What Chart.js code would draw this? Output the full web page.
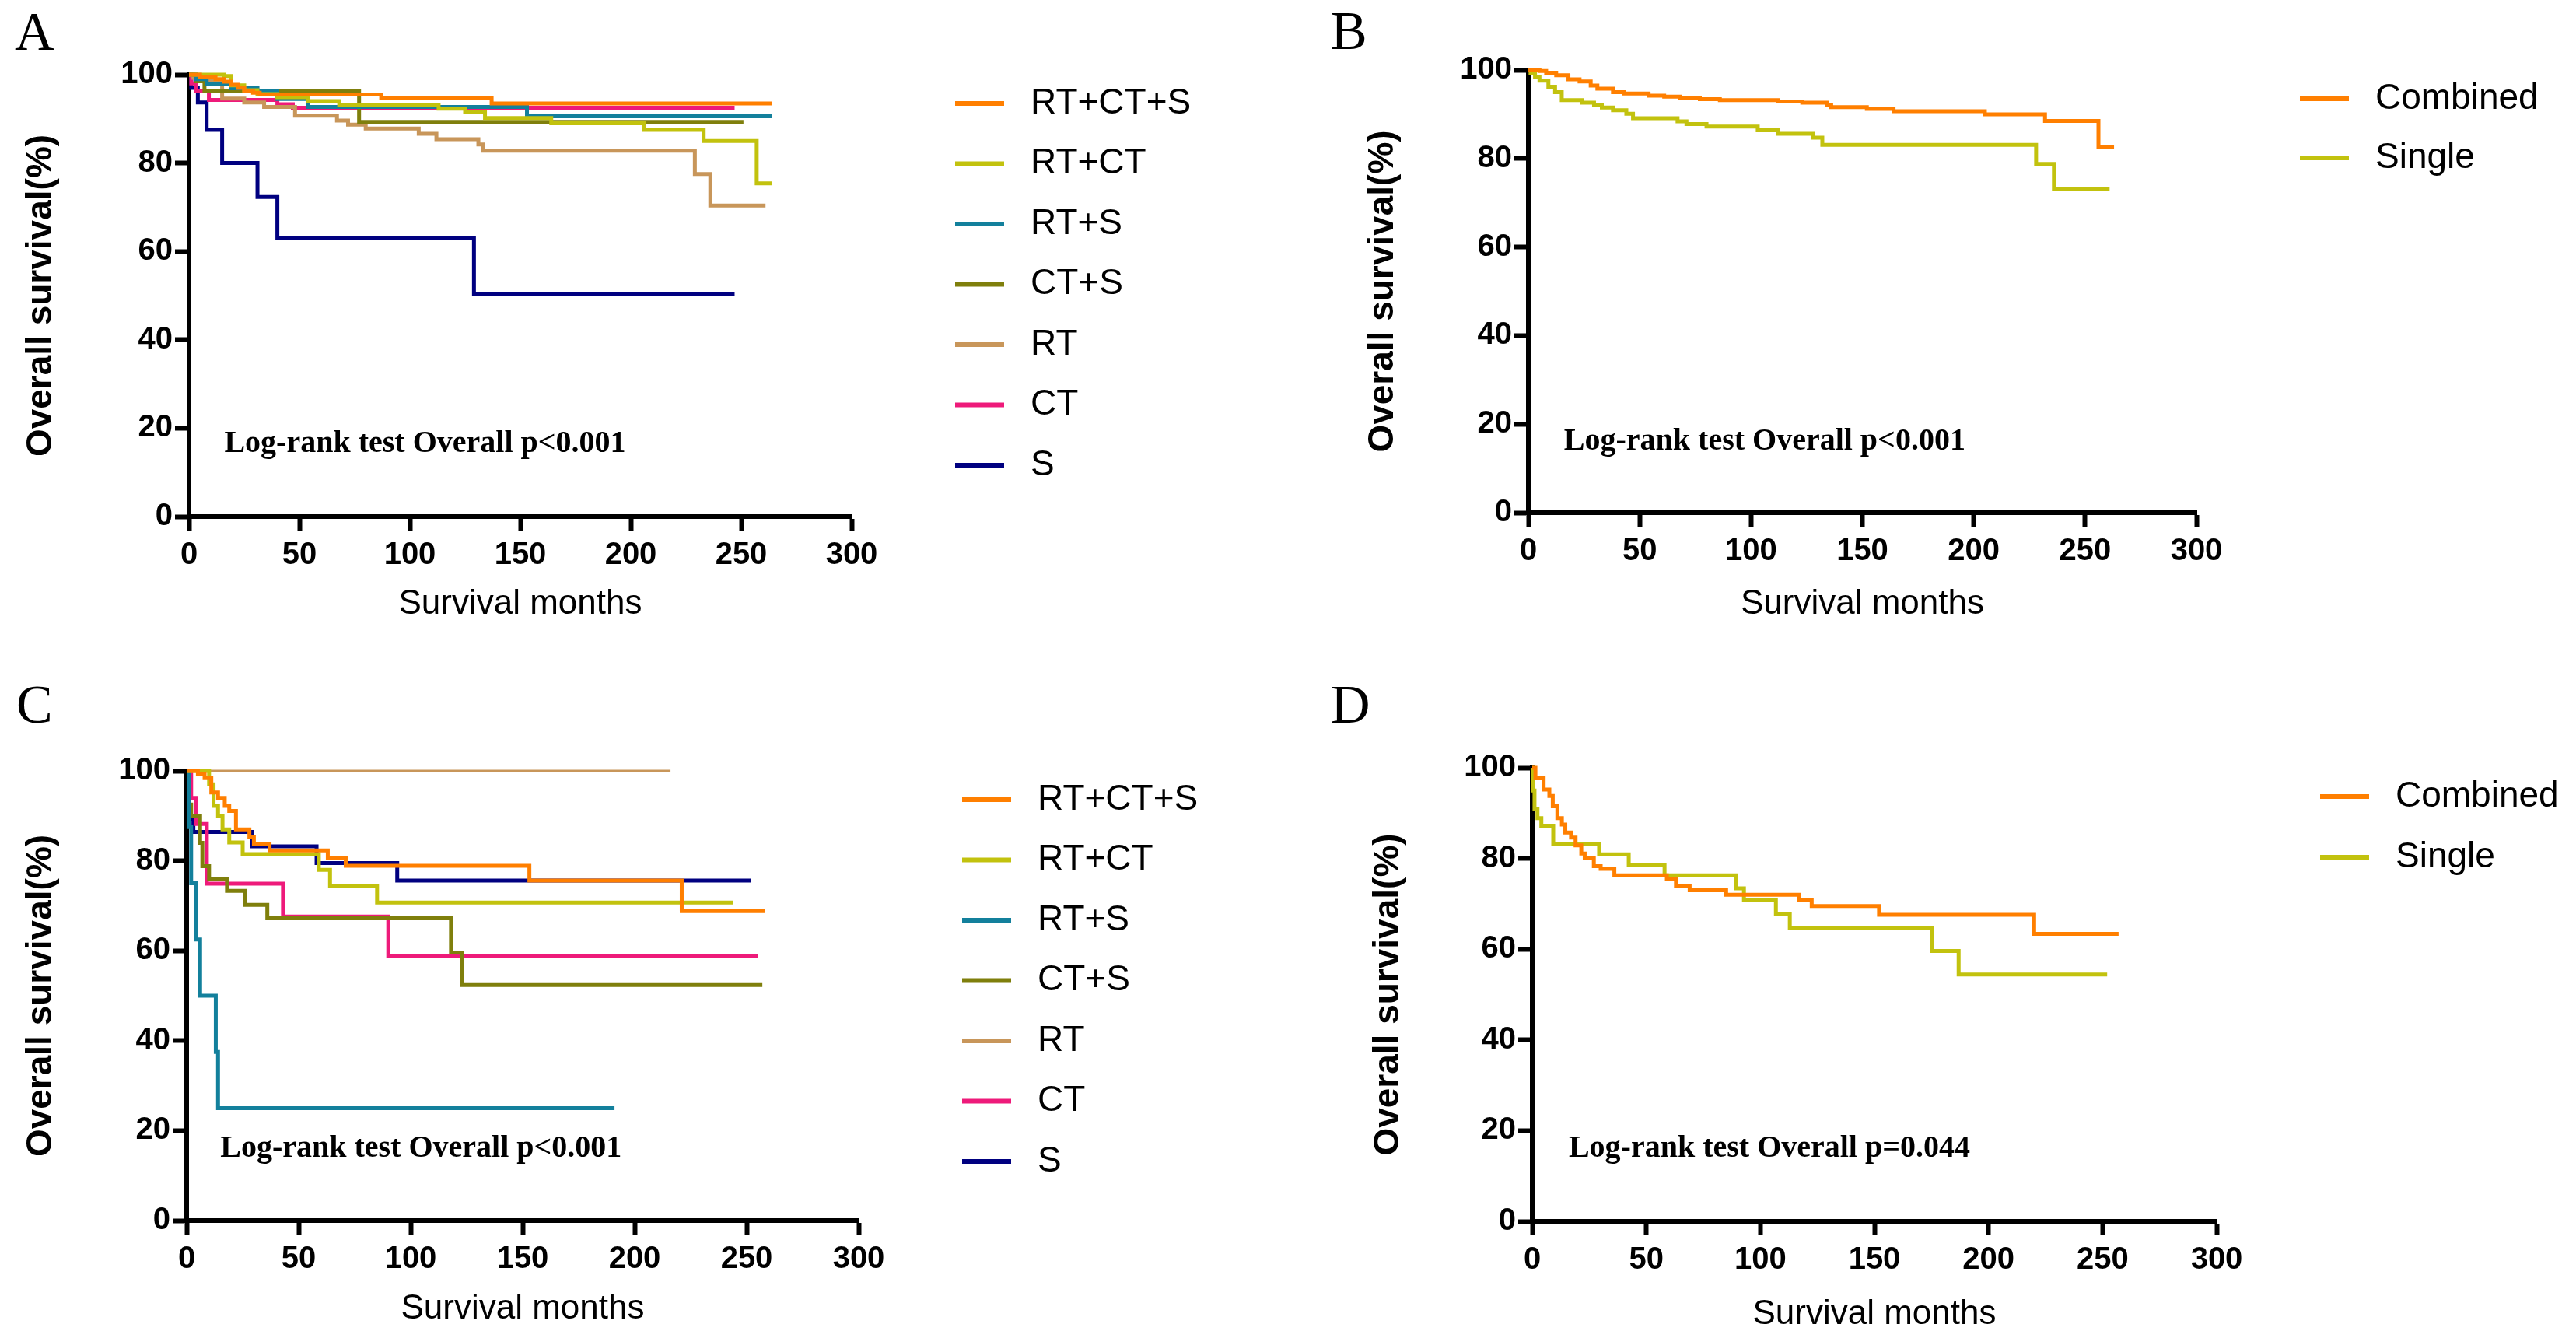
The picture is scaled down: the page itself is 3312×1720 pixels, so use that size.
<!doctype html>
<html>
<head>
<title>Overall survival by treatment</title>
<script src="https://cdn.jsdelivr.net/npm/chart.js@4.4.0/dist/chart.umd.min.js"></script>
<style>
  body { margin: 0; background: #fff; }
  .panel { position: absolute; width: 1656px; height: 860px; }
</style>
</head>
<body>
<div class="panel" style="left:0;top:0"><canvas id="chartA" width="1656" height="860"></canvas></div>
<div class="panel" style="left:1656px;top:0"><canvas id="chartB" width="1656" height="860"></canvas></div>
<div class="panel" style="left:0;top:860px"><canvas id="chartC" width="1656" height="860"></canvas></div>
<div class="panel" style="left:1656px;top:860px"><canvas id="chartD" width="1656" height="860"></canvas></div>
<script>
// axis ticks
var xTicks = [0, 50, 100, 150, 200, 250, 300];
var yTicks = [0, 20, 40, 60, 80, 100];

// group names
var groupsSix = ['RT+CT+S', 'RT+CT', 'RT+S', 'CT+S', 'RT', 'CT', 'S'];
var groupsTwo = ['Combined', 'Single'];

// Kaplan-Meier steps: [month, survival %]
// panel A
var A_RTCTS = [[0,100],[5,99.4],[12,99],[16,98.4],[19,97.7],[22,97],[25,96.4],[29,95.9],[32,95.5],[87,94.7],[137,93.5],[264,93.5]];
var A_RTCT = [[0,100],[16,99.7],[19,97.6],[25,96.5],[31,95.6],[40,94.9],[54,94],[68,93.1],[113,92.3],[125,91.6],[134,90.2],[164,89],[206,87.5],[233,85],[257,75.4],[264,75.4]];
var A_RTS = [[0,100],[3,99],[8,97.8],[19,96.9],[31,96.3],[40,94.5],[54,92.7],[153,90.6],[264,90.6]];
var A_CTS = [[0,100],[3,98.5],[7,96.3],[77,89.3],[251,89.3]];
var A_RT = [[0,100],[2,99.3],[5,98.7],[15,94.6],[25,93.7],[34,92.7],[48,90.7],[67,89.6],[72,88.7],[80,87.8],[104,86.6],[112,85.4],[131,84.2],[133,82.8],[229,77.5],[236,70.4],[261,70.4]];
var A_CT = [[0,100],[1,98],[3,96.3],[9,94.3],[40,93.3],[47,92.5],[247,92.5]];
var A_S = [[0,100],[1,97],[4,93.7],[8,87.5],[15,80],[31,72.3],[40,63],[129,50.4],[247,50.4]];

// panel B
var B_Combined = [[0,100],[5,99.8],[8,99.4],[12.5,98.8],[18,97.9],[23,97.4],[28,96.5],[31,95.8],[38,95],[43,94.7],[54,94.2],[61,94],[68,93.7],[77,93.4],[86,93.2],[112,92.9],[123,92.6],[134,92.2],[136,91.6],[152,91.2],[164,90.7],[205,90],[232,88.5],[256,82.6],[263,82.6]];
var B_Single = [[0,100],[1,99.4],[3,98.5],[5,97.6],[9,96.2],[12,95],[15,93.2],[24,92.6],[29.5,92.1],[33,91.5],[38,90.9],[44,90.1],[47,89.1],[67,88.4],[71,87.8],[80,87.2],[103,86.4],[112,85.6],[128,84.7],[132,83.1],[228,78.8],[236,73.1],[261,73.1]];

// panel C
var C_RTCTS = [[0,100],[5,99.2],[8,98.4],[11,95.2],[14,94],[17,92.2],[19,91.1],[22,87],[28,85.2],[30,83.8],[37,82.3],[63,80.7],[71,78.9],[153,75.6],[221,68.8],[258,68.8]];
var C_RTCT = [[0,100],[10,97],[12,92.2],[14,89.9],[16,87],[19,84.1],[25,81.5],[59,78],[64,74.5],[85,70.7],[244,70.7]];
var C_RTS = [[0,100],[1,87.5],[2,75],[4,62.5],[6,50],[13,37.5],[14,25],[191,25]];
var C_CTS = [[0,100],[1,92.5],[2,89.9],[6,84],[7,78.8],[10,75.9],[18,73.3],[26,70.2],[36,67.2],[118,59.6],[123,52.4],[257,52.4]];
var C_RT = [[0,100],[216,100]];
var C_CT = [[0,100],[2,94],[4,88.2],[9,74.9],[43,67.6],[90,58.8],[255,58.8]];
var C_S = [[0,100],[1,89.3],[3,86.4],[29,83.2],[58,79.5],[94,75.6],[252,75.6]];

// panel D
var D_Combined = [[0,100],[1.4,97.7],[5,95.2],[7.5,93.8],[9,91.5],[11,88.9],[13,87.5],[14.5,85.7],[17,84.6],[19,82.9],[21.5,81.1],[23,80],[27,78.3],[30,77.7],[36,76.3],[59,75.4],[63,74],[69,73],[85,72],[117,70.8],[122.5,69.5],[152,67.6],[220,63.4],[257,63.4]];
var D_Single = [[0,100],[0.5,95],[1,90.9],[2.3,88.9],[4,87.2],[9.2,83.2],[29.3,80.9],[42.3,78.6],[58,76.3],[89.4,73.4],[92.8,70.8],[106.8,67.8],[112.9,64.6],[175.2,59.6],[186.9,54.4],[252,54.4]];

var colorsSix = ['#FF7F00', '#C2C20E', '#13809C', '#7F7F0C', '#C8965A', '#EE1A7A', '#000080'];
var colorsTwo = ['#FF7F00', '#C2C20E'];

function toPoints(steps) {
  return steps.map(function (p) { return { x: p[0], y: p[1] }; });
}

// legend, panel letter and log-rank note
var panelExtras = {
  id: 'panelExtras',
  afterDraw: function (chart) {
    var o = chart.options.plugins.panelExtras;
    var ctx = chart.ctx;
    var area = chart.chartArea;
    ctx.save();
    ctx.fillStyle = '#000';
    ctx.font = '70px "Liberation Serif"';
    ctx.textBaseline = 'alphabetic';
    ctx.textAlign = 'left';
    ctx.fillText(o.letter, o.letterX, o.letterY);

    ctx.font = 'bold 40px "Liberation Serif"';
    ctx.textBaseline = 'middle';
    ctx.fillText(o.note, chart.scales.x.getPixelForValue(o.noteAt[0]), chart.scales.y.getPixelForValue(o.noteAt[1]));

    ctx.font = '46px "Liberation Sans"';
    chart.data.datasets.forEach(function (ds, i) {
      var lx = area.right + 133;
      var ly = area.top + 37 + i * o.rowGap;
      ctx.strokeStyle = ds.borderColor;
      ctx.lineWidth = 6;
      ctx.beginPath();
      ctx.moveTo(lx, ly);
      ctx.lineTo(lx + 63, ly);
      ctx.stroke();
      ctx.fillStyle = '#000';
      ctx.fillText(ds.label, lx + 97, ly);
    });
    ctx.restore();
  }
};

function makePanel(id, labels, colors, series, geo, extras) {
  var datasets = series.map(function (s, i) {
    return {
      label: labels[i],
      data: toPoints(s),
      borderColor: colors[i],
      borderWidth: (geo.thin && geo.thin.indexOf(i) >= 0) ? 3 : 5,
      pointRadius: 0,
      stepped: 'before',
      fill: false,
      clip: 12
    };
  });
  var W = 1656, H = 860;
  return new Chart(document.getElementById(id), {
    type: 'line',
    data: { datasets: datasets },
    plugins: [panelExtras],
    options: {
      responsive: false,
      animation: false,
      layout: { padding: { left: 0, top: geo.top, right: W - geo.right, bottom: 0 } },
      plugins: {
        legend: { display: false },
        tooltip: { enabled: false },
        panelExtras: extras
      },
      scales: {
        x: {
          type: 'linear',
          min: xTicks[0],
          max: xTicks[xTicks.length - 1],
          afterFit: function (s) { s.height = H - geo.bottom; },
          afterBuildTicks: function (s) { s.ticks = xTicks.map(function (v) { return { value: v }; }); },
          ticks: { color: '#000', padding: 8, font: { family: 'Liberation Sans', weight: 'bold', size: 40 } },
          grid: { drawOnChartArea: false, drawTicks: true, tickLength: 18, tickWidth: 6, tickColor: '#000' },
          border: { display: true, color: '#000', width: 6 },
          title: {
            display: true, text: 'Survival months', color: '#000',
            font: { family: 'Liberation Sans', size: 44 },
            padding: { top: 0, bottom: H - 26.4 - geo.xTitleY }
          }
        },
        y: {
          type: 'linear',
          min: yTicks[0],
          max: yTicks[yTicks.length - 1],
          afterFit: function (s) { s.width = geo.left; },
          afterBuildTicks: function (s) { s.ticks = yTicks.map(function (v) { return { value: v }; }); },
          ticks: { color: '#000', padding: 3, font: { family: 'Liberation Sans', weight: 'bold', size: 40 } },
          grid: { drawOnChartArea: false, drawTicks: true, tickLength: 18, tickWidth: 6, tickColor: '#000' },
          border: { display: true, color: '#000', width: 6 },
          title: {
            display: true, text: 'Overall survival(%)', color: '#000',
            font: { family: 'Liberation Sans', weight: 'bold', size: 46 },
            padding: { top: geo.yTitleX - 27.6, bottom: 0 }
          }
        }
      }
    }
  });
}

makePanel('chartA', groupsSix, colorsSix, [A_RTCTS, A_RTCT, A_RTS, A_CTS, A_RT, A_CT, A_S],
  { left: 243, top: 96, right: 1095, bottom: 664, xTitleY: 777, yTitleX: 53 },
  { letter: 'A', letterX: 19, letterY: 64, note: 'Log-rank test Overall p<0.001', noteAt: [16, 16.5], rowGap: 77.5 });

makePanel('chartB', groupsTwo, colorsTwo, [B_Combined, B_Single],
  { left: 309, top: 90, right: 1168, bottom: 659, xTitleY: 777, yTitleX: 122 },
  { letter: 'B', letterX: 55, letterY: 63, note: 'Log-rank test Overall p<0.001', noteAt: [16, 16], rowGap: 76 });

makePanel('chartC', groupsSix, colorsSix, [C_RTCTS, C_RTCT, C_RTS, C_CTS, C_RT, C_CT, C_S],
  { left: 240, top: 131, right: 1104, bottom: 709, xTitleY: 823, yTitleX: 53, thin: [4] },
  { letter: 'C', letterX: 21, letterY: 69, note: 'Log-rank test Overall p<0.001', noteAt: [15, 16], rowGap: 77.5 });

makePanel('chartD', groupsTwo, colorsTwo, [D_Combined, D_Single],
  { left: 314, top: 127, right: 1194, bottom: 710, xTitleY: 830, yTitleX: 129 },
  { letter: 'D', letterX: 55, letterY: 69, note: 'Log-rank test Overall p=0.044', noteAt: [16, 16], rowGap: 78 });
</script>
</body>
</html>
